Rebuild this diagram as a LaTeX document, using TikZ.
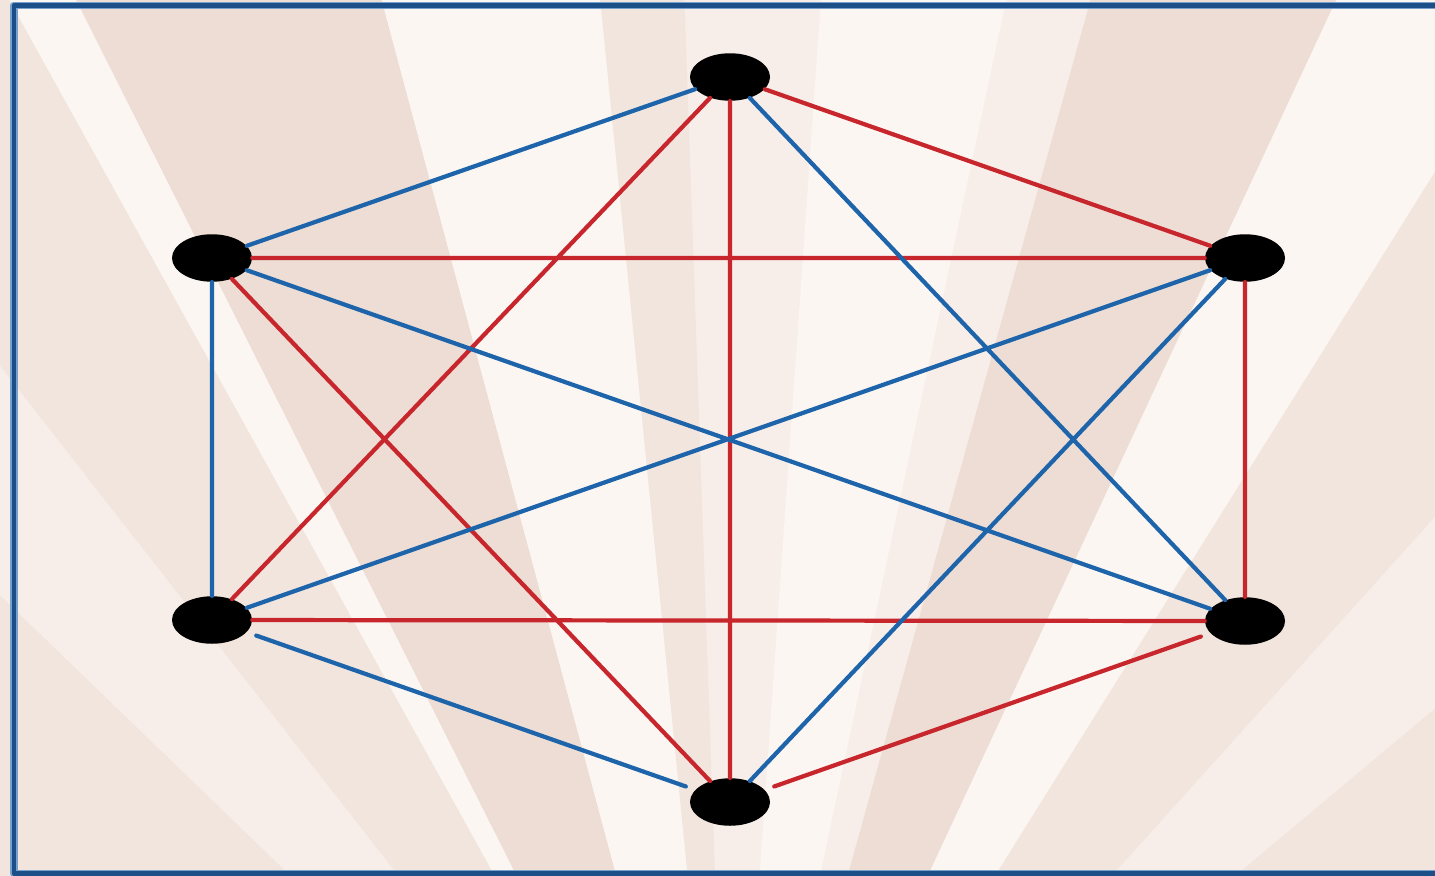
\documentclass[tikz,border=0pt]{standalone}
\usepackage{tikz}
\usetikzlibrary{shapes.geometric}
\definecolor{graphred}{RGB}{200,38,45}
\definecolor{graphblue}{RGB}{30,100,170}
\definecolor{framedark}{RGB}{28,78,135}
\definecolor{framelight}{RGB}{120,160,205}
\definecolor{raywhite}{RGB}{251,246,242}
\definecolor{raylight}{RGB}{247,238,233}
\definecolor{raymid}{RGB}{242,229,222}
\definecolor{raydark}{RGB}{237,221,212}
\begin{document}
\begin{tikzpicture}[x=0.02cm,y=-0.02cm,line cap=round,line join=round,
 vertex/.style={ellipse,fill=black,draw=none,minimum width=1.6cm,minimum height=.95cm,inner sep=0pt},
 rededge/.style={graphred,line width=2.4pt,shorten <=.2cm,shorten >=.2cm},
 blueedge/.style={graphblue,line width=2.4pt,shorten <=.2cm,shorten >=.2cm}]
\useasboundingbox (0,0) rectangle (1435,875);
% Tło: promienie rozchodzące się spod dolnego brzegu (oś y w dół, więc kąty ujemne).
\begin{scope}
\clip (0,0) rectangle (1435,875);
\fill[raylight] (0,0) rectangle (1435,875);
\coordinate (C) at (730,1300);
\fill[raymid] (C) -- ++(-150:2600) arc[start angle=-150,end angle=-136,radius=2600] -- cycle;
\fill[raylight] (C) -- ++(-136:2600) arc[start angle=-136,end angle=-128,radius=2600] -- cycle;
\fill[raymid] (C) -- ++(-128:2600) arc[start angle=-128,end angle=-119,radius=2600] -- cycle;
\fill[raywhite] (C) -- ++(-119:2600) arc[start angle=-119,end angle=-116.7,radius=2600] -- cycle;
\fill[raydark] (C) -- ++(-116.7:2600) arc[start angle=-116.7,end angle=-105,radius=2600] -- cycle;
\fill[raywhite] (C) -- ++(-105:2600) arc[start angle=-105,end angle=-95.7,radius=2600] -- cycle;
\fill[raymid] (C) -- ++(-95.7:2600) arc[start angle=-95.7,end angle=-92,radius=2600] -- cycle;
\fill[raylight] (C) -- ++(-92:2600) arc[start angle=-92,end angle=-86,radius=2600] -- cycle;
\fill[raywhite] (C) -- ++(-86:2600) arc[start angle=-86,end angle=-78,radius=2600] -- cycle;
\fill[raylight] (C) -- ++(-78:2600) arc[start angle=-78,end angle=-74.5,radius=2600] -- cycle;
\fill[raydark] (C) -- ++(-74.5:2600) arc[start angle=-74.5,end angle=-65,radius=2600] -- cycle;
\fill[raywhite] (C) -- ++(-65:2600) arc[start angle=-65,end angle=-58,radius=2600] -- cycle;
\fill[raymid] (C) -- ++(-58:2600) arc[start angle=-58,end angle=-48,radius=2600] -- cycle;
\fill[raylight] (C) -- ++(-48:2600) arc[start angle=-48,end angle=-40,radius=2600] -- cycle;
\fill[raymid] (C) -- ++(-40:2600) arc[start angle=-40,end angle=-30,radius=2600] -- cycle;
\end{scope}
% Ramka: lewy, górny i dolny brzeg.
\draw[framelight,line width=4.5pt] (1435,5.5) -- (14,5.5) -- (14,873.5) -- (1435,873.5);
\draw[framedark,line width=2.6pt] (1435,5.5) -- (14,5.5) -- (14,873.5) -- (1435,873.5);
% Wierzchołki sześciokąta.
\node[vertex] (T) at (730,77) {};
\node[vertex] (UL) at (212,258) {};
\node[vertex] (UR) at (1245,258) {};
\node[vertex] (LL) at (212,620) {};
\node[vertex] (LR) at (1245,621) {};
\node[vertex] (B) at (730,802) {};
% Krawędzie czerwone i niebieskie.
\draw[rededge] (T)--(UR) (T)--(LL) (T)--(B) (UL)--(UR) (UL)--(B)
 (UR)--(LR) (LL)--(LR) (LR)--(B);
\draw[blueedge] (T)--(UL) (T)--(LR) (UL)--(LL) (UL)--(LR) (UR)--(LL)
 (UR)--(B) (LL)--(B);
\end{tikzpicture}
\end{document}
